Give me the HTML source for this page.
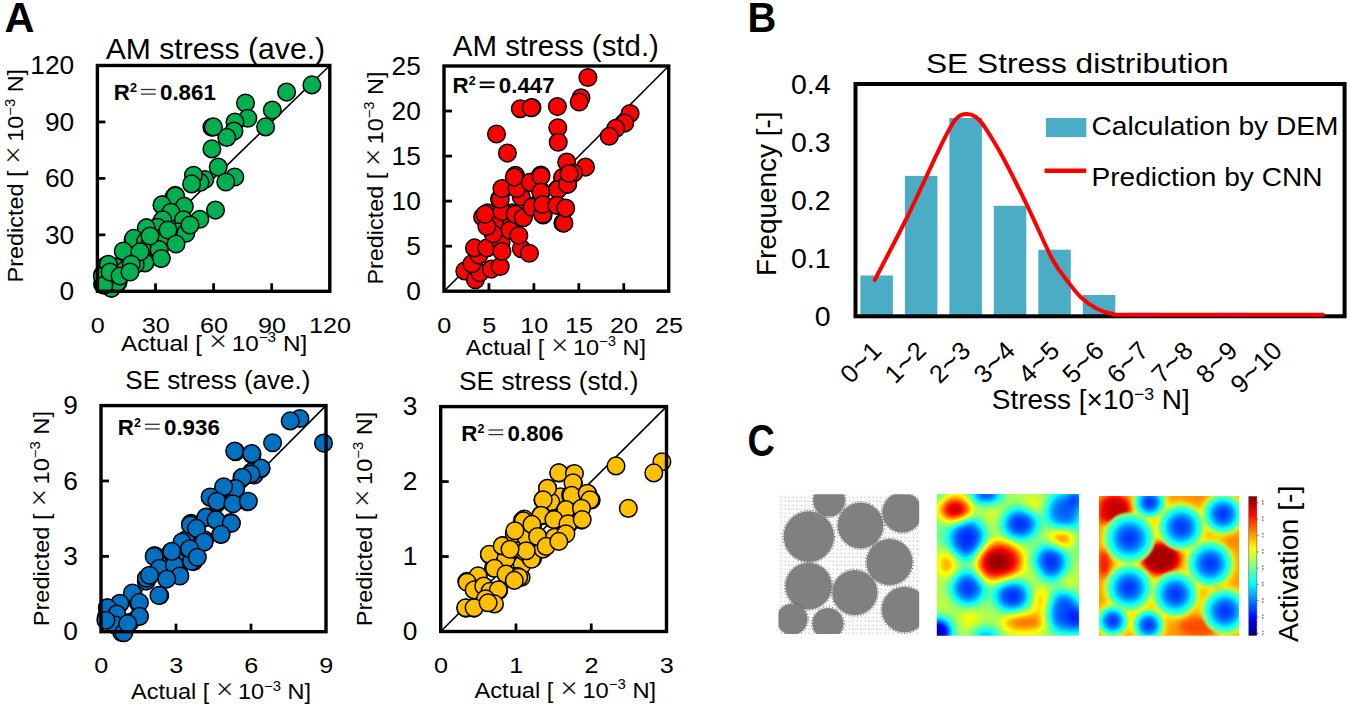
<!DOCTYPE html>
<html><head><meta charset="utf-8"><style>
html,body{margin:0;padding:0;background:#fff;overflow:hidden}
svg{display:block}
text{font-family:"Liberation Sans", sans-serif}
</style></head><body>
<svg width="1349" height="706" viewBox="0 0 1349 706" font-family='"Liberation Sans", sans-serif'>
<rect width="1349" height="706" fill="#fff"/>
<text transform="translate(4.6,32.3) scale(1.0,1.02)" font-size="41.5" font-weight="bold">A</text>
<text transform="translate(747.6,32.3) scale(0.96,1.02)" font-size="41.5" font-weight="bold">B</text>
<text transform="translate(747.5,455.5) scale(0.91,1.05)" font-size="41.5" font-weight="bold">C</text>
<line x1="97.4" y1="234.85000000000002" x2="105.4" y2="234.85000000000002" stroke="#000" stroke-width="2.8"/>
<line x1="155.5" y1="291.3" x2="155.5" y2="283.3" stroke="#000" stroke-width="2.8"/>
<line x1="97.4" y1="178.4" x2="105.4" y2="178.4" stroke="#000" stroke-width="2.8"/>
<line x1="213.60000000000002" y1="291.3" x2="213.60000000000002" y2="283.3" stroke="#000" stroke-width="2.8"/>
<line x1="97.4" y1="121.94999999999999" x2="105.4" y2="121.94999999999999" stroke="#000" stroke-width="2.8"/>
<line x1="271.70000000000005" y1="291.3" x2="271.70000000000005" y2="283.3" stroke="#000" stroke-width="2.8"/>
<line x1="97.4" y1="291.3" x2="329.8" y2="65.5" stroke="#000" stroke-width="1.6"/>
<circle cx="311.9" cy="84.9" r="8.8" fill="#00b050" stroke="#000" stroke-width="1.5"/>
<circle cx="286.6" cy="92.1" r="8.8" fill="#00b050" stroke="#000" stroke-width="1.5"/>
<circle cx="272.3" cy="110.1" r="8.8" fill="#00b050" stroke="#000" stroke-width="1.5"/>
<circle cx="265.6" cy="126.9" r="8.8" fill="#00b050" stroke="#000" stroke-width="1.5"/>
<circle cx="245.5" cy="103" r="8.8" fill="#00b050" stroke="#000" stroke-width="1.5"/>
<circle cx="247.8" cy="118.3" r="8.8" fill="#00b050" stroke="#000" stroke-width="1.5"/>
<circle cx="235" cy="122.1" r="8.8" fill="#00b050" stroke="#000" stroke-width="1.5"/>
<circle cx="234" cy="131.1" r="8.8" fill="#00b050" stroke="#000" stroke-width="1.5"/>
<circle cx="226.8" cy="137.4" r="8.8" fill="#00b050" stroke="#000" stroke-width="1.5"/>
<circle cx="211.9" cy="127.3" r="8.8" fill="#00b050" stroke="#000" stroke-width="1.5"/>
<circle cx="213.4" cy="126.9" r="8.8" fill="#00b050" stroke="#000" stroke-width="1.5"/>
<circle cx="211.9" cy="148.9" r="8.8" fill="#00b050" stroke="#000" stroke-width="1.5"/>
<circle cx="218.2" cy="167.1" r="8.8" fill="#00b050" stroke="#000" stroke-width="1.5"/>
<circle cx="234.8" cy="177" r="8.8" fill="#00b050" stroke="#000" stroke-width="1.5"/>
<circle cx="225.8" cy="182" r="8.8" fill="#00b050" stroke="#000" stroke-width="1.5"/>
<circle cx="204.8" cy="179.5" r="8.8" fill="#00b050" stroke="#000" stroke-width="1.5"/>
<circle cx="200" cy="182.4" r="8.8" fill="#00b050" stroke="#000" stroke-width="1.5"/>
<circle cx="193.5" cy="175.3" r="8.8" fill="#00b050" stroke="#000" stroke-width="1.5"/>
<circle cx="191.6" cy="183.9" r="8.8" fill="#00b050" stroke="#000" stroke-width="1.5"/>
<circle cx="215.5" cy="210.1" r="8.8" fill="#00b050" stroke="#000" stroke-width="1.5"/>
<circle cx="199.8" cy="219.3" r="8.8" fill="#00b050" stroke="#000" stroke-width="1.5"/>
<circle cx="175.3" cy="195.4" r="8.8" fill="#00b050" stroke="#000" stroke-width="1.5"/>
<circle cx="183" cy="205.9" r="8.8" fill="#00b050" stroke="#000" stroke-width="1.5"/>
<circle cx="162.3" cy="204.9" r="8.8" fill="#00b050" stroke="#000" stroke-width="1.5"/>
<circle cx="183" cy="219.7" r="8.8" fill="#00b050" stroke="#000" stroke-width="1.5"/>
<circle cx="184.9" cy="232.7" r="8.8" fill="#00b050" stroke="#000" stroke-width="1.5"/>
<circle cx="179.1" cy="235.5" r="8.8" fill="#00b050" stroke="#000" stroke-width="1.5"/>
<circle cx="172.4" cy="225" r="8.8" fill="#00b050" stroke="#000" stroke-width="1.5"/>
<circle cx="161.9" cy="221.2" r="8.8" fill="#00b050" stroke="#000" stroke-width="1.5"/>
<circle cx="156.2" cy="227.9" r="8.8" fill="#00b050" stroke="#000" stroke-width="1.5"/>
<circle cx="164.2" cy="235.5" r="8.8" fill="#00b050" stroke="#000" stroke-width="1.5"/>
<circle cx="146.6" cy="227.9" r="8.8" fill="#00b050" stroke="#000" stroke-width="1.5"/>
<circle cx="143.8" cy="241.3" r="8.8" fill="#00b050" stroke="#000" stroke-width="1.5"/>
<circle cx="151.4" cy="245.1" r="8.8" fill="#00b050" stroke="#000" stroke-width="1.5"/>
<circle cx="159.1" cy="249.9" r="8.8" fill="#00b050" stroke="#000" stroke-width="1.5"/>
<circle cx="161" cy="258.5" r="8.8" fill="#00b050" stroke="#000" stroke-width="1.5"/>
<circle cx="145.7" cy="261.3" r="8.8" fill="#00b050" stroke="#000" stroke-width="1.5"/>
<circle cx="135.2" cy="264.2" r="8.8" fill="#00b050" stroke="#000" stroke-width="1.5"/>
<circle cx="133.2" cy="240.3" r="8.8" fill="#00b050" stroke="#000" stroke-width="1.5"/>
<circle cx="123.7" cy="251.8" r="8.8" fill="#00b050" stroke="#000" stroke-width="1.5"/>
<circle cx="125.6" cy="269" r="8.8" fill="#00b050" stroke="#000" stroke-width="1.5"/>
<circle cx="115.1" cy="267.1" r="8.8" fill="#00b050" stroke="#000" stroke-width="1.5"/>
<circle cx="106.5" cy="265.2" r="8.8" fill="#00b050" stroke="#000" stroke-width="1.5"/>
<circle cx="102.6" cy="274.7" r="8.8" fill="#00b050" stroke="#000" stroke-width="1.5"/>
<circle cx="118" cy="282.4" r="8.8" fill="#00b050" stroke="#000" stroke-width="1.5"/>
<circle cx="111.3" cy="288.1" r="8.8" fill="#00b050" stroke="#000" stroke-width="1.5"/>
<circle cx="102.6" cy="284.3" r="8.8" fill="#00b050" stroke="#000" stroke-width="1.5"/>
<circle cx="173.9" cy="197.3" r="8.8" fill="#00b050" stroke="#000" stroke-width="1.5"/>
<circle cx="181.3" cy="208.4" r="8.8" fill="#00b050" stroke="#000" stroke-width="1.5"/>
<circle cx="175.4" cy="196" r="8.8" fill="#00b050" stroke="#000" stroke-width="1.5"/>
<circle cx="162" cy="204.9" r="8.8" fill="#00b050" stroke="#000" stroke-width="1.5"/>
<circle cx="184.3" cy="206.4" r="8.8" fill="#00b050" stroke="#000" stroke-width="1.5"/>
<circle cx="170.9" cy="212.3" r="8.8" fill="#00b050" stroke="#000" stroke-width="1.5"/>
<circle cx="183.5" cy="219.8" r="8.8" fill="#00b050" stroke="#000" stroke-width="1.5"/>
<circle cx="162.7" cy="219.8" r="8.8" fill="#00b050" stroke="#000" stroke-width="1.5"/>
<circle cx="157.5" cy="227.2" r="8.8" fill="#00b050" stroke="#000" stroke-width="1.5"/>
<circle cx="146.3" cy="227.9" r="8.8" fill="#00b050" stroke="#000" stroke-width="1.5"/>
<circle cx="178.3" cy="231.7" r="8.8" fill="#00b050" stroke="#000" stroke-width="1.5"/>
<circle cx="185.8" cy="233.2" r="8.8" fill="#00b050" stroke="#000" stroke-width="1.5"/>
<circle cx="164.2" cy="236.1" r="8.8" fill="#00b050" stroke="#000" stroke-width="1.5"/>
<circle cx="133.7" cy="238.4" r="8.8" fill="#00b050" stroke="#000" stroke-width="1.5"/>
<circle cx="145.6" cy="241.3" r="8.8" fill="#00b050" stroke="#000" stroke-width="1.5"/>
<circle cx="150.1" cy="242.8" r="8.8" fill="#00b050" stroke="#000" stroke-width="1.5"/>
<circle cx="159" cy="249.5" r="8.8" fill="#00b050" stroke="#000" stroke-width="1.5"/>
<circle cx="123.3" cy="251" r="8.8" fill="#00b050" stroke="#000" stroke-width="1.5"/>
<circle cx="161.2" cy="258.5" r="8.8" fill="#00b050" stroke="#000" stroke-width="1.5"/>
<circle cx="144.9" cy="262.9" r="8.8" fill="#00b050" stroke="#000" stroke-width="1.5"/>
<circle cx="135.2" cy="264.4" r="8.8" fill="#00b050" stroke="#000" stroke-width="1.5"/>
<circle cx="115.8" cy="267.4" r="8.8" fill="#00b050" stroke="#000" stroke-width="1.5"/>
<circle cx="124.8" cy="270.4" r="8.8" fill="#00b050" stroke="#000" stroke-width="1.5"/>
<circle cx="108.4" cy="264.4" r="8.8" fill="#00b050" stroke="#000" stroke-width="1.5"/>
<circle cx="102.4" cy="276.3" r="8.8" fill="#00b050" stroke="#000" stroke-width="1.5"/>
<circle cx="111.4" cy="288.2" r="8.8" fill="#00b050" stroke="#000" stroke-width="1.5"/>
<circle cx="117.3" cy="282.3" r="8.8" fill="#00b050" stroke="#000" stroke-width="1.5"/>
<circle cx="103.9" cy="285.2" r="8.8" fill="#00b050" stroke="#000" stroke-width="1.5"/>
<circle cx="110" cy="272" r="8.8" fill="#00b050" stroke="#000" stroke-width="1.5"/>
<circle cx="120" cy="276" r="8.8" fill="#00b050" stroke="#000" stroke-width="1.5"/>
<circle cx="140" cy="251.8" r="8.8" fill="#00b050" stroke="#000" stroke-width="1.5"/>
<circle cx="131.3" cy="264.2" r="8.8" fill="#00b050" stroke="#000" stroke-width="1.5"/>
<circle cx="130" cy="272" r="8.8" fill="#00b050" stroke="#000" stroke-width="1.5"/>
<circle cx="150" cy="236" r="8.8" fill="#00b050" stroke="#000" stroke-width="1.5"/>
<circle cx="168" cy="230" r="8.8" fill="#00b050" stroke="#000" stroke-width="1.5"/>
<circle cx="190" cy="225" r="8.8" fill="#00b050" stroke="#000" stroke-width="1.5"/>
<circle cx="176" cy="244" r="8.8" fill="#00b050" stroke="#000" stroke-width="1.5"/>
<rect x="97.4" y="65.5" width="232.4" height="225.8" fill="none" stroke="#000" stroke-width="3.4"/>
<text x="74.2" y="300.0" font-size="26.3" text-anchor="end" fill="#000">0</text>
<text x="74.2" y="243.6" font-size="26.3" text-anchor="end" fill="#000">30</text>
<text x="74.2" y="187.1" font-size="26.3" text-anchor="end" fill="#000">60</text>
<text x="74.2" y="130.6" font-size="26.3" text-anchor="end" fill="#000">90</text>
<text x="74.2" y="74.2" font-size="26.3" text-anchor="end" fill="#000">120</text>
<text transform="translate(97.7,332.6) scale(1.12,1)" font-size="22.5" text-anchor="middle">0</text>
<text transform="translate(155.8,332.6) scale(1.12,1)" font-size="22.5" text-anchor="middle">30</text>
<text transform="translate(213.9,332.6) scale(1.12,1)" font-size="22.5" text-anchor="middle">60</text>
<text transform="translate(272.0,332.6) scale(1.12,1)" font-size="22.5" text-anchor="middle">90</text>
<text transform="translate(330.1,332.6) scale(1.12,1)" font-size="22.5" text-anchor="middle">120</text>
<text x="121.0" y="350.9" font-size="22.2" textLength="186.2" lengthAdjust="spacingAndGlyphs">Actual [ <tspan font-size="29" stroke="#fff" stroke-width="0.6">×</tspan><tspan dx="4">10</tspan><tspan font-size="14" dy="-8.5">−3</tspan><tspan dy="8.5"> N]</tspan></text>
<text transform="translate(23.2,282.5) rotate(-90)" font-size="22.2" textLength="213.6" lengthAdjust="spacingAndGlyphs">Predicted [ <tspan font-size="29" stroke="#fff" stroke-width="0.6">×</tspan><tspan dx="4">10</tspan><tspan font-size="14" dy="-8.5">−3</tspan><tspan dy="8.5"> N]</tspan></text>
<text x="105.7" y="58.6" font-size="29" textLength="219.4" lengthAdjust="spacingAndGlyphs" fill="#000">AM stress (ave.)</text>
<text x="113.7" y="100.3" font-size="22.3" font-weight="bold" fill="#000">R</text>
<text x="129.9" y="92.3" font-size="12.5" font-weight="bold" fill="#000">2</text>
<line x1="140.9" y1="89.5" x2="155.7" y2="89.5" stroke="#333" stroke-width="1.3"/>
<line x1="140.9" y1="94.1" x2="155.7" y2="94.1" stroke="#333" stroke-width="1.3"/>
<text x="160.0" y="100.3" font-size="22.3" font-weight="bold" fill="#000">0.861</text>
<line x1="444" y1="246.16" x2="452" y2="246.16" stroke="#000" stroke-width="2.8"/>
<line x1="488.94" y1="291.2" x2="488.94" y2="283.2" stroke="#000" stroke-width="2.8"/>
<line x1="444" y1="201.12" x2="452" y2="201.12" stroke="#000" stroke-width="2.8"/>
<line x1="533.88" y1="291.2" x2="533.88" y2="283.2" stroke="#000" stroke-width="2.8"/>
<line x1="444" y1="156.08" x2="452" y2="156.08" stroke="#000" stroke-width="2.8"/>
<line x1="578.82" y1="291.2" x2="578.82" y2="283.2" stroke="#000" stroke-width="2.8"/>
<line x1="444" y1="111.03999999999999" x2="452" y2="111.03999999999999" stroke="#000" stroke-width="2.8"/>
<line x1="623.76" y1="291.2" x2="623.76" y2="283.2" stroke="#000" stroke-width="2.8"/>
<line x1="444" y1="291.2" x2="668.7" y2="66" stroke="#000" stroke-width="1.6"/>
<circle cx="587.9" cy="77.5" r="8.8" fill="#ff0000" stroke="#000" stroke-width="1.5"/>
<circle cx="581" cy="97.7" r="8.8" fill="#ff0000" stroke="#000" stroke-width="1.5"/>
<circle cx="579.2" cy="102" r="8.8" fill="#ff0000" stroke="#000" stroke-width="1.5"/>
<circle cx="557.4" cy="106.6" r="8.8" fill="#ff0000" stroke="#000" stroke-width="1.5"/>
<circle cx="532" cy="107.6" r="8.8" fill="#ff0000" stroke="#000" stroke-width="1.5"/>
<circle cx="557.8" cy="127.8" r="8.8" fill="#ff0000" stroke="#000" stroke-width="1.5"/>
<circle cx="558.2" cy="142.3" r="8.8" fill="#ff0000" stroke="#000" stroke-width="1.5"/>
<circle cx="630.1" cy="113.5" r="8.8" fill="#ff0000" stroke="#000" stroke-width="1.5"/>
<circle cx="624.8" cy="123.1" r="8.8" fill="#ff0000" stroke="#000" stroke-width="1.5"/>
<circle cx="615.7" cy="128.4" r="8.8" fill="#ff0000" stroke="#000" stroke-width="1.5"/>
<circle cx="609.3" cy="136.3" r="8.8" fill="#ff0000" stroke="#000" stroke-width="1.5"/>
<circle cx="566.7" cy="162.1" r="8.8" fill="#ff0000" stroke="#000" stroke-width="1.5"/>
<circle cx="585.5" cy="167.1" r="8.8" fill="#ff0000" stroke="#000" stroke-width="1.5"/>
<circle cx="573.6" cy="173" r="8.8" fill="#ff0000" stroke="#000" stroke-width="1.5"/>
<circle cx="567.7" cy="183.9" r="8.8" fill="#ff0000" stroke="#000" stroke-width="1.5"/>
<circle cx="557.8" cy="188.9" r="8.8" fill="#ff0000" stroke="#000" stroke-width="1.5"/>
<circle cx="562.7" cy="178" r="8.8" fill="#ff0000" stroke="#000" stroke-width="1.5"/>
<circle cx="540.9" cy="175" r="8.8" fill="#ff0000" stroke="#000" stroke-width="1.5"/>
<circle cx="533" cy="182" r="8.8" fill="#ff0000" stroke="#000" stroke-width="1.5"/>
<circle cx="540.9" cy="190.9" r="8.8" fill="#ff0000" stroke="#000" stroke-width="1.5"/>
<circle cx="520.3" cy="108.8" r="8.8" fill="#ff0000" stroke="#000" stroke-width="1.5"/>
<circle cx="531.2" cy="107.8" r="8.8" fill="#ff0000" stroke="#000" stroke-width="1.5"/>
<circle cx="496.5" cy="134" r="8.8" fill="#ff0000" stroke="#000" stroke-width="1.5"/>
<circle cx="507.4" cy="153.1" r="8.8" fill="#ff0000" stroke="#000" stroke-width="1.5"/>
<circle cx="515.4" cy="175.3" r="8.8" fill="#ff0000" stroke="#000" stroke-width="1.5"/>
<circle cx="540.1" cy="176.3" r="8.8" fill="#ff0000" stroke="#000" stroke-width="1.5"/>
<circle cx="530.2" cy="182.2" r="8.8" fill="#ff0000" stroke="#000" stroke-width="1.5"/>
<circle cx="518.3" cy="188.2" r="8.8" fill="#ff0000" stroke="#000" stroke-width="1.5"/>
<circle cx="503.5" cy="189.1" r="8.8" fill="#ff0000" stroke="#000" stroke-width="1.5"/>
<circle cx="541.1" cy="192.1" r="8.8" fill="#ff0000" stroke="#000" stroke-width="1.5"/>
<circle cx="558" cy="189.1" r="8.8" fill="#ff0000" stroke="#000" stroke-width="1.5"/>
<circle cx="566.9" cy="184.2" r="8.8" fill="#ff0000" stroke="#000" stroke-width="1.5"/>
<circle cx="562.9" cy="177.2" r="8.8" fill="#ff0000" stroke="#000" stroke-width="1.5"/>
<circle cx="499.5" cy="199.1" r="8.8" fill="#ff0000" stroke="#000" stroke-width="1.5"/>
<circle cx="521.3" cy="197.1" r="8.8" fill="#ff0000" stroke="#000" stroke-width="1.5"/>
<circle cx="533.2" cy="206" r="8.8" fill="#ff0000" stroke="#000" stroke-width="1.5"/>
<circle cx="542.1" cy="204" r="8.8" fill="#ff0000" stroke="#000" stroke-width="1.5"/>
<circle cx="557" cy="205" r="8.8" fill="#ff0000" stroke="#000" stroke-width="1.5"/>
<circle cx="564.9" cy="209" r="8.8" fill="#ff0000" stroke="#000" stroke-width="1.5"/>
<circle cx="543.1" cy="214.9" r="8.8" fill="#ff0000" stroke="#000" stroke-width="1.5"/>
<circle cx="562.9" cy="222.9" r="8.8" fill="#ff0000" stroke="#000" stroke-width="1.5"/>
<circle cx="523.3" cy="216.9" r="8.8" fill="#ff0000" stroke="#000" stroke-width="1.5"/>
<circle cx="512.4" cy="212.9" r="8.8" fill="#ff0000" stroke="#000" stroke-width="1.5"/>
<circle cx="502.5" cy="211" r="8.8" fill="#ff0000" stroke="#000" stroke-width="1.5"/>
<circle cx="487.6" cy="212.9" r="8.8" fill="#ff0000" stroke="#000" stroke-width="1.5"/>
<circle cx="482.6" cy="216.9" r="8.8" fill="#ff0000" stroke="#000" stroke-width="1.5"/>
<circle cx="509.4" cy="226.8" r="8.8" fill="#ff0000" stroke="#000" stroke-width="1.5"/>
<circle cx="494.5" cy="224.8" r="8.8" fill="#ff0000" stroke="#000" stroke-width="1.5"/>
<circle cx="464.8" cy="270.9" r="8.8" fill="#ff0000" stroke="#000" stroke-width="1.5"/>
<circle cx="475.4" cy="279.7" r="8.8" fill="#ff0000" stroke="#000" stroke-width="1.5"/>
<circle cx="479.8" cy="272.7" r="8.8" fill="#ff0000" stroke="#000" stroke-width="1.5"/>
<circle cx="471.9" cy="263.8" r="8.8" fill="#ff0000" stroke="#000" stroke-width="1.5"/>
<circle cx="478.9" cy="255" r="8.8" fill="#ff0000" stroke="#000" stroke-width="1.5"/>
<circle cx="474.5" cy="247.9" r="8.8" fill="#ff0000" stroke="#000" stroke-width="1.5"/>
<circle cx="486.9" cy="247.9" r="8.8" fill="#ff0000" stroke="#000" stroke-width="1.5"/>
<circle cx="491.3" cy="269.1" r="8.8" fill="#ff0000" stroke="#000" stroke-width="1.5"/>
<circle cx="500.2" cy="266.5" r="8.8" fill="#ff0000" stroke="#000" stroke-width="1.5"/>
<circle cx="501.1" cy="242.6" r="8.8" fill="#ff0000" stroke="#000" stroke-width="1.5"/>
<circle cx="501.9" cy="251.4" r="8.8" fill="#ff0000" stroke="#000" stroke-width="1.5"/>
<circle cx="521.4" cy="248.8" r="8.8" fill="#ff0000" stroke="#000" stroke-width="1.5"/>
<circle cx="529.4" cy="253.2" r="8.8" fill="#ff0000" stroke="#000" stroke-width="1.5"/>
<circle cx="509.9" cy="230.2" r="8.8" fill="#ff0000" stroke="#000" stroke-width="1.5"/>
<circle cx="518.8" cy="235.5" r="8.8" fill="#ff0000" stroke="#000" stroke-width="1.5"/>
<circle cx="493.1" cy="233.7" r="8.8" fill="#ff0000" stroke="#000" stroke-width="1.5"/>
<circle cx="486.9" cy="226.6" r="8.8" fill="#ff0000" stroke="#000" stroke-width="1.5"/>
<circle cx="485.1" cy="214.2" r="8.8" fill="#ff0000" stroke="#000" stroke-width="1.5"/>
<circle cx="501.9" cy="211.6" r="8.8" fill="#ff0000" stroke="#000" stroke-width="1.5"/>
<circle cx="515.2" cy="214.2" r="8.8" fill="#ff0000" stroke="#000" stroke-width="1.5"/>
<circle cx="523.2" cy="217.8" r="8.8" fill="#ff0000" stroke="#000" stroke-width="1.5"/>
<circle cx="500.2" cy="199.2" r="8.8" fill="#ff0000" stroke="#000" stroke-width="1.5"/>
<circle cx="501.9" cy="188.6" r="8.8" fill="#ff0000" stroke="#000" stroke-width="1.5"/>
<circle cx="517" cy="188.6" r="8.8" fill="#ff0000" stroke="#000" stroke-width="1.5"/>
<circle cx="514.3" cy="177.1" r="8.8" fill="#ff0000" stroke="#000" stroke-width="1.5"/>
<circle cx="530.3" cy="182.4" r="8.8" fill="#ff0000" stroke="#000" stroke-width="1.5"/>
<circle cx="540.9" cy="176.2" r="8.8" fill="#ff0000" stroke="#000" stroke-width="1.5"/>
<circle cx="540.9" cy="192.1" r="8.8" fill="#ff0000" stroke="#000" stroke-width="1.5"/>
<circle cx="532" cy="207.2" r="8.8" fill="#ff0000" stroke="#000" stroke-width="1.5"/>
<circle cx="542.7" cy="214.2" r="8.8" fill="#ff0000" stroke="#000" stroke-width="1.5"/>
<circle cx="542.7" cy="204.5" r="8.8" fill="#ff0000" stroke="#000" stroke-width="1.5"/>
<circle cx="557.7" cy="189.5" r="8.8" fill="#ff0000" stroke="#000" stroke-width="1.5"/>
<circle cx="567.4" cy="184.2" r="8.8" fill="#ff0000" stroke="#000" stroke-width="1.5"/>
<circle cx="556.8" cy="205.4" r="8.8" fill="#ff0000" stroke="#000" stroke-width="1.5"/>
<circle cx="563.9" cy="223.1" r="8.8" fill="#ff0000" stroke="#000" stroke-width="1.5"/>
<circle cx="565.7" cy="208.1" r="8.8" fill="#ff0000" stroke="#000" stroke-width="1.5"/>
<circle cx="569.2" cy="173.5" r="8.8" fill="#ff0000" stroke="#000" stroke-width="1.5"/>
<rect x="444" y="66" width="224.70000000000005" height="225.2" fill="none" stroke="#000" stroke-width="3.4"/>
<text x="420.8" y="299.9" font-size="26.3" text-anchor="end" fill="#000">0</text>
<text x="420.8" y="254.9" font-size="26.3" text-anchor="end" fill="#000">5</text>
<text x="420.8" y="209.8" font-size="26.3" text-anchor="end" fill="#000">10</text>
<text x="420.8" y="164.8" font-size="26.3" text-anchor="end" fill="#000">15</text>
<text x="420.8" y="119.7" font-size="26.3" text-anchor="end" fill="#000">20</text>
<text x="420.8" y="74.7" font-size="26.3" text-anchor="end" fill="#000">25</text>
<text transform="translate(444.3,332.6) scale(1.12,1)" font-size="22.5" text-anchor="middle">0</text>
<text transform="translate(489.2,332.6) scale(1.12,1)" font-size="22.5" text-anchor="middle">5</text>
<text transform="translate(534.2,332.6) scale(1.12,1)" font-size="22.5" text-anchor="middle">10</text>
<text transform="translate(579.1,332.6) scale(1.12,1)" font-size="22.5" text-anchor="middle">15</text>
<text transform="translate(624.1,332.6) scale(1.12,1)" font-size="22.5" text-anchor="middle">20</text>
<text transform="translate(669.0,332.6) scale(1.12,1)" font-size="22.5" text-anchor="middle">25</text>
<text x="465.8" y="354.8" font-size="22.2" textLength="180.2" lengthAdjust="spacingAndGlyphs">Actual [ <tspan font-size="29" stroke="#fff" stroke-width="0.6">×</tspan><tspan dx="4">10</tspan><tspan font-size="14" dy="-8.5">−3</tspan><tspan dy="8.5"> N]</tspan></text>
<text transform="translate(382.8,284.5) rotate(-90)" font-size="22.2" textLength="212.9" lengthAdjust="spacingAndGlyphs">Predicted [ <tspan font-size="29" stroke="#fff" stroke-width="0.6">×</tspan><tspan dx="4">10</tspan><tspan font-size="14" dy="-8.5">−3</tspan><tspan dy="8.5"> N]</tspan></text>
<text x="452.8" y="56" font-size="29" textLength="206.1" lengthAdjust="spacingAndGlyphs" fill="#000">AM stress (std.)</text>
<text x="452.5" y="93.3" font-size="22.3" font-weight="bold" fill="#000">R</text>
<text x="468.7" y="85.3" font-size="12.5" font-weight="bold" fill="#000">2</text>
<line x1="479.7" y1="82.5" x2="494.5" y2="82.5" stroke="#000" stroke-width="2"/>
<line x1="479.7" y1="87.1" x2="494.5" y2="87.1" stroke="#000" stroke-width="2"/>
<text x="498.8" y="93.3" font-size="22.3" font-weight="bold" fill="#000">0.447</text>
<line x1="101" y1="556.3333333333334" x2="109" y2="556.3333333333334" stroke="#000" stroke-width="2.8"/>
<line x1="176.0" y1="631.7" x2="176.0" y2="623.7" stroke="#000" stroke-width="2.8"/>
<line x1="101" y1="480.9666666666667" x2="109" y2="480.9666666666667" stroke="#000" stroke-width="2.8"/>
<line x1="251.0" y1="631.7" x2="251.0" y2="623.7" stroke="#000" stroke-width="2.8"/>
<line x1="101" y1="631.7" x2="326" y2="405.6" stroke="#000" stroke-width="1.6"/>
<circle cx="299.9" cy="418.5" r="8.8" fill="#0070c0" stroke="#000" stroke-width="1.5"/>
<circle cx="290.2" cy="420.9" r="8.8" fill="#0070c0" stroke="#000" stroke-width="1.5"/>
<circle cx="323.5" cy="443.1" r="8.8" fill="#0070c0" stroke="#000" stroke-width="1.5"/>
<circle cx="272.6" cy="442.7" r="8.8" fill="#0070c0" stroke="#000" stroke-width="1.5"/>
<circle cx="235.6" cy="451.8" r="8.8" fill="#0070c0" stroke="#000" stroke-width="1.5"/>
<circle cx="252" cy="454.4" r="8.8" fill="#0070c0" stroke="#000" stroke-width="1.5"/>
<circle cx="254.1" cy="475" r="8.8" fill="#0070c0" stroke="#000" stroke-width="1.5"/>
<circle cx="251.6" cy="471.9" r="8.8" fill="#0070c0" stroke="#000" stroke-width="1.5"/>
<circle cx="260.9" cy="468.8" r="8.8" fill="#0070c0" stroke="#000" stroke-width="1.5"/>
<circle cx="242" cy="477.6" r="8.8" fill="#0070c0" stroke="#000" stroke-width="1.5"/>
<circle cx="235.6" cy="488.3" r="8.8" fill="#0070c0" stroke="#000" stroke-width="1.5"/>
<circle cx="223.9" cy="488.3" r="8.8" fill="#0070c0" stroke="#000" stroke-width="1.5"/>
<circle cx="210.5" cy="497.6" r="8.8" fill="#0070c0" stroke="#000" stroke-width="1.5"/>
<circle cx="247.5" cy="501.7" r="8.8" fill="#0070c0" stroke="#000" stroke-width="1.5"/>
<circle cx="232.1" cy="502.7" r="8.8" fill="#0070c0" stroke="#000" stroke-width="1.5"/>
<circle cx="216.7" cy="501.7" r="8.8" fill="#0070c0" stroke="#000" stroke-width="1.5"/>
<circle cx="206.4" cy="517.1" r="8.8" fill="#0070c0" stroke="#000" stroke-width="1.5"/>
<circle cx="215.7" cy="520.1" r="8.8" fill="#0070c0" stroke="#000" stroke-width="1.5"/>
<circle cx="231.1" cy="523.2" r="8.8" fill="#0070c0" stroke="#000" stroke-width="1.5"/>
<circle cx="220.8" cy="534.5" r="8.8" fill="#0070c0" stroke="#000" stroke-width="1.5"/>
<circle cx="196.2" cy="528.4" r="8.8" fill="#0070c0" stroke="#000" stroke-width="1.5"/>
<circle cx="204.4" cy="539.7" r="8.8" fill="#0070c0" stroke="#000" stroke-width="1.5"/>
<circle cx="191" cy="523.2" r="8.8" fill="#0070c0" stroke="#000" stroke-width="1.5"/>
<circle cx="230.6" cy="522.6" r="8.8" fill="#0070c0" stroke="#000" stroke-width="1.5"/>
<circle cx="190.5" cy="524.6" r="8.8" fill="#0070c0" stroke="#000" stroke-width="1.5"/>
<circle cx="195.6" cy="529.8" r="8.8" fill="#0070c0" stroke="#000" stroke-width="1.5"/>
<circle cx="203.9" cy="542.1" r="8.8" fill="#0070c0" stroke="#000" stroke-width="1.5"/>
<circle cx="185.4" cy="540" r="8.8" fill="#0070c0" stroke="#000" stroke-width="1.5"/>
<circle cx="189.5" cy="549.3" r="8.8" fill="#0070c0" stroke="#000" stroke-width="1.5"/>
<circle cx="193.6" cy="561.6" r="8.8" fill="#0070c0" stroke="#000" stroke-width="1.5"/>
<circle cx="179.2" cy="573.9" r="8.8" fill="#0070c0" stroke="#000" stroke-width="1.5"/>
<circle cx="177.2" cy="559.6" r="8.8" fill="#0070c0" stroke="#000" stroke-width="1.5"/>
<circle cx="171" cy="552.4" r="8.8" fill="#0070c0" stroke="#000" stroke-width="1.5"/>
<circle cx="166.9" cy="576" r="8.8" fill="#0070c0" stroke="#000" stroke-width="1.5"/>
<circle cx="154.6" cy="555.5" r="8.8" fill="#0070c0" stroke="#000" stroke-width="1.5"/>
<circle cx="159.7" cy="567.8" r="8.8" fill="#0070c0" stroke="#000" stroke-width="1.5"/>
<circle cx="146.3" cy="581.1" r="8.8" fill="#0070c0" stroke="#000" stroke-width="1.5"/>
<circle cx="149.4" cy="576" r="8.8" fill="#0070c0" stroke="#000" stroke-width="1.5"/>
<circle cx="159.7" cy="595.5" r="8.8" fill="#0070c0" stroke="#000" stroke-width="1.5"/>
<circle cx="133" cy="594.5" r="8.8" fill="#0070c0" stroke="#000" stroke-width="1.5"/>
<circle cx="138.1" cy="602.7" r="8.8" fill="#0070c0" stroke="#000" stroke-width="1.5"/>
<circle cx="139.2" cy="616" r="8.8" fill="#0070c0" stroke="#000" stroke-width="1.5"/>
<circle cx="119.6" cy="603.7" r="8.8" fill="#0070c0" stroke="#000" stroke-width="1.5"/>
<circle cx="107.3" cy="607.8" r="8.8" fill="#0070c0" stroke="#000" stroke-width="1.5"/>
<circle cx="106.3" cy="617.1" r="8.8" fill="#0070c0" stroke="#000" stroke-width="1.5"/>
<circle cx="115.5" cy="624.3" r="8.8" fill="#0070c0" stroke="#000" stroke-width="1.5"/>
<circle cx="121.7" cy="632.5" r="8.8" fill="#0070c0" stroke="#000" stroke-width="1.5"/>
<circle cx="125.8" cy="623.2" r="8.8" fill="#0070c0" stroke="#000" stroke-width="1.5"/>
<circle cx="129.9" cy="622.2" r="8.8" fill="#0070c0" stroke="#000" stroke-width="1.5"/>
<circle cx="154.2" cy="556.5" r="8.8" fill="#0070c0" stroke="#000" stroke-width="1.5"/>
<circle cx="171.3" cy="551.8" r="8.8" fill="#0070c0" stroke="#000" stroke-width="1.5"/>
<circle cx="188.5" cy="548.7" r="8.8" fill="#0070c0" stroke="#000" stroke-width="1.5"/>
<circle cx="159.6" cy="568.2" r="8.8" fill="#0070c0" stroke="#000" stroke-width="1.5"/>
<circle cx="174.4" cy="565" r="8.8" fill="#0070c0" stroke="#000" stroke-width="1.5"/>
<circle cx="179.9" cy="576" r="8.8" fill="#0070c0" stroke="#000" stroke-width="1.5"/>
<circle cx="166.7" cy="579.1" r="8.8" fill="#0070c0" stroke="#000" stroke-width="1.5"/>
<circle cx="146.4" cy="578.3" r="8.8" fill="#0070c0" stroke="#000" stroke-width="1.5"/>
<circle cx="149.5" cy="575.2" r="8.8" fill="#0070c0" stroke="#000" stroke-width="1.5"/>
<circle cx="158.9" cy="595.4" r="8.8" fill="#0070c0" stroke="#000" stroke-width="1.5"/>
<circle cx="132.4" cy="593.1" r="8.8" fill="#0070c0" stroke="#000" stroke-width="1.5"/>
<circle cx="139.4" cy="602.4" r="8.8" fill="#0070c0" stroke="#000" stroke-width="1.5"/>
<circle cx="139.4" cy="616.4" r="8.8" fill="#0070c0" stroke="#000" stroke-width="1.5"/>
<circle cx="119.9" cy="603.2" r="8.8" fill="#0070c0" stroke="#000" stroke-width="1.5"/>
<circle cx="107.5" cy="607.9" r="8.8" fill="#0070c0" stroke="#000" stroke-width="1.5"/>
<circle cx="116.8" cy="614.1" r="8.8" fill="#0070c0" stroke="#000" stroke-width="1.5"/>
<circle cx="115.2" cy="625" r="8.8" fill="#0070c0" stroke="#000" stroke-width="1.5"/>
<circle cx="123.8" cy="632.8" r="8.8" fill="#0070c0" stroke="#000" stroke-width="1.5"/>
<circle cx="127.7" cy="623.5" r="8.8" fill="#0070c0" stroke="#000" stroke-width="1.5"/>
<circle cx="105.9" cy="620.3" r="8.8" fill="#0070c0" stroke="#000" stroke-width="1.5"/>
<circle cx="191.6" cy="561.2" r="8.8" fill="#0070c0" stroke="#000" stroke-width="1.5"/>
<circle cx="234.7" cy="451.1" r="8.8" fill="#0070c0" stroke="#000" stroke-width="1.5"/>
<circle cx="251.7" cy="453.6" r="8.8" fill="#0070c0" stroke="#000" stroke-width="1.5"/>
<circle cx="261.1" cy="468.1" r="8.8" fill="#0070c0" stroke="#000" stroke-width="1.5"/>
<circle cx="250.9" cy="474" r="8.8" fill="#0070c0" stroke="#000" stroke-width="1.5"/>
<circle cx="242.4" cy="477.4" r="8.8" fill="#0070c0" stroke="#000" stroke-width="1.5"/>
<circle cx="235.6" cy="488.5" r="8.8" fill="#0070c0" stroke="#000" stroke-width="1.5"/>
<circle cx="223.7" cy="486.8" r="8.8" fill="#0070c0" stroke="#000" stroke-width="1.5"/>
<circle cx="210.1" cy="497" r="8.8" fill="#0070c0" stroke="#000" stroke-width="1.5"/>
<circle cx="216.9" cy="501.2" r="8.8" fill="#0070c0" stroke="#000" stroke-width="1.5"/>
<circle cx="233" cy="503.8" r="8.8" fill="#0070c0" stroke="#000" stroke-width="1.5"/>
<circle cx="248.3" cy="501.2" r="8.8" fill="#0070c0" stroke="#000" stroke-width="1.5"/>
<circle cx="205.8" cy="517.4" r="8.8" fill="#0070c0" stroke="#000" stroke-width="1.5"/>
<circle cx="216" cy="519.9" r="8.8" fill="#0070c0" stroke="#000" stroke-width="1.5"/>
<circle cx="231.3" cy="523.3" r="8.8" fill="#0070c0" stroke="#000" stroke-width="1.5"/>
<circle cx="190.5" cy="525" r="8.8" fill="#0070c0" stroke="#000" stroke-width="1.5"/>
<circle cx="196.5" cy="528.4" r="8.8" fill="#0070c0" stroke="#000" stroke-width="1.5"/>
<circle cx="221.1" cy="534.4" r="8.8" fill="#0070c0" stroke="#000" stroke-width="1.5"/>
<circle cx="204.1" cy="542" r="8.8" fill="#0070c0" stroke="#000" stroke-width="1.5"/>
<circle cx="182" cy="542" r="8.8" fill="#0070c0" stroke="#000" stroke-width="1.5"/>
<circle cx="189.7" cy="548.8" r="8.8" fill="#0070c0" stroke="#000" stroke-width="1.5"/>
<circle cx="171.8" cy="551.4" r="8.8" fill="#0070c0" stroke="#000" stroke-width="1.5"/>
<circle cx="197.3" cy="557.3" r="8.8" fill="#0070c0" stroke="#000" stroke-width="1.5"/>
<rect x="101" y="405.6" width="225" height="226.10000000000002" fill="none" stroke="#000" stroke-width="3.4"/>
<text x="77.8" y="640.4" font-size="26.3" text-anchor="end" fill="#000">0</text>
<text x="77.8" y="565.0" font-size="26.3" text-anchor="end" fill="#000">3</text>
<text x="77.8" y="489.7" font-size="26.3" text-anchor="end" fill="#000">6</text>
<text x="77.8" y="414.3" font-size="26.3" text-anchor="end" fill="#000">9</text>
<text transform="translate(101.3,673.2) scale(1.12,1)" font-size="22.5" text-anchor="middle">0</text>
<text transform="translate(176.3,673.2) scale(1.12,1)" font-size="22.5" text-anchor="middle">3</text>
<text transform="translate(251.3,673.2) scale(1.12,1)" font-size="22.5" text-anchor="middle">6</text>
<text transform="translate(326.3,673.2) scale(1.12,1)" font-size="22.5" text-anchor="middle">9</text>
<text x="131.1" y="699" font-size="22.2" textLength="179.9" lengthAdjust="spacingAndGlyphs">Actual [ <tspan font-size="29" stroke="#fff" stroke-width="0.6">×</tspan><tspan dx="4">10</tspan><tspan font-size="14" dy="-8.5">−3</tspan><tspan dy="8.5"> N]</tspan></text>
<text transform="translate(48.8,626.3) rotate(-90)" font-size="22.2" textLength="215.3" lengthAdjust="spacingAndGlyphs">Predicted [ <tspan font-size="29" stroke="#fff" stroke-width="0.6">×</tspan><tspan dx="4">10</tspan><tspan font-size="14" dy="-8.5">−3</tspan><tspan dy="8.5"> N]</tspan></text>
<text x="125.3" y="388.5" font-size="26" textLength="185.2" lengthAdjust="spacingAndGlyphs" fill="#000">SE stress (ave.)</text>
<text x="117.7" y="435.1" font-size="22.3" font-weight="bold" fill="#000">R</text>
<text x="133.9" y="427.1" font-size="12.5" font-weight="bold" fill="#000">2</text>
<line x1="144.9" y1="424.3" x2="159.7" y2="424.3" stroke="#333" stroke-width="1.3"/>
<line x1="144.9" y1="428.90000000000003" x2="159.7" y2="428.90000000000003" stroke="#333" stroke-width="1.3"/>
<text x="164.0" y="435.1" font-size="22.3" font-weight="bold" fill="#000">0.936</text>
<line x1="440.7" y1="556.5333333333333" x2="448.7" y2="556.5333333333333" stroke="#000" stroke-width="2.8"/>
<line x1="515.9666666666667" y1="631.5" x2="515.9666666666667" y2="623.5" stroke="#000" stroke-width="2.8"/>
<line x1="440.7" y1="481.5666666666667" x2="448.7" y2="481.5666666666667" stroke="#000" stroke-width="2.8"/>
<line x1="591.2333333333333" y1="631.5" x2="591.2333333333333" y2="623.5" stroke="#000" stroke-width="2.8"/>
<line x1="440.7" y1="631.5" x2="666.5" y2="406.6" stroke="#000" stroke-width="1.6"/>
<circle cx="661.9" cy="461.7" r="8.8" fill="#ffc000" stroke="#000" stroke-width="1.5"/>
<circle cx="653.8" cy="472.9" r="8.8" fill="#ffc000" stroke="#000" stroke-width="1.5"/>
<circle cx="616" cy="465.9" r="8.8" fill="#ffc000" stroke="#000" stroke-width="1.5"/>
<circle cx="628.3" cy="508.4" r="8.8" fill="#ffc000" stroke="#000" stroke-width="1.5"/>
<circle cx="558.9" cy="472.9" r="8.8" fill="#ffc000" stroke="#000" stroke-width="1.5"/>
<circle cx="572.7" cy="474.4" r="8.8" fill="#ffc000" stroke="#000" stroke-width="1.5"/>
<circle cx="573.5" cy="482.9" r="8.8" fill="#ffc000" stroke="#000" stroke-width="1.5"/>
<circle cx="547.6" cy="488.2" r="8.8" fill="#ffc000" stroke="#000" stroke-width="1.5"/>
<circle cx="560.4" cy="496.7" r="8.8" fill="#ffc000" stroke="#000" stroke-width="1.5"/>
<circle cx="571" cy="494.6" r="8.8" fill="#ffc000" stroke="#000" stroke-width="1.5"/>
<circle cx="587.6" cy="493.6" r="8.8" fill="#ffc000" stroke="#000" stroke-width="1.5"/>
<circle cx="591.2" cy="499.9" r="8.8" fill="#ffc000" stroke="#000" stroke-width="1.5"/>
<circle cx="542.9" cy="499.9" r="8.8" fill="#ffc000" stroke="#000" stroke-width="1.5"/>
<circle cx="550.8" cy="502" r="8.8" fill="#ffc000" stroke="#000" stroke-width="1.5"/>
<circle cx="565.7" cy="509.5" r="8.8" fill="#ffc000" stroke="#000" stroke-width="1.5"/>
<circle cx="581.6" cy="520.1" r="8.8" fill="#ffc000" stroke="#000" stroke-width="1.5"/>
<circle cx="568.4" cy="524.4" r="8.8" fill="#ffc000" stroke="#000" stroke-width="1.5"/>
<circle cx="552.9" cy="519" r="8.8" fill="#ffc000" stroke="#000" stroke-width="1.5"/>
<circle cx="541.2" cy="514.8" r="8.8" fill="#ffc000" stroke="#000" stroke-width="1.5"/>
<circle cx="532.7" cy="524.4" r="8.8" fill="#ffc000" stroke="#000" stroke-width="1.5"/>
<circle cx="524.2" cy="519" r="8.8" fill="#ffc000" stroke="#000" stroke-width="1.5"/>
<circle cx="538.1" cy="537.1" r="8.8" fill="#ffc000" stroke="#000" stroke-width="1.5"/>
<circle cx="556.1" cy="537.1" r="8.8" fill="#ffc000" stroke="#000" stroke-width="1.5"/>
<circle cx="564.6" cy="533.9" r="8.8" fill="#ffc000" stroke="#000" stroke-width="1.5"/>
<circle cx="543.4" cy="547.7" r="8.8" fill="#ffc000" stroke="#000" stroke-width="1.5"/>
<circle cx="526.4" cy="552" r="8.8" fill="#ffc000" stroke="#000" stroke-width="1.5"/>
<circle cx="532.7" cy="558.3" r="8.8" fill="#ffc000" stroke="#000" stroke-width="1.5"/>
<circle cx="521.1" cy="577.5" r="8.8" fill="#ffc000" stroke="#000" stroke-width="1.5"/>
<circle cx="522.1" cy="564.7" r="8.8" fill="#ffc000" stroke="#000" stroke-width="1.5"/>
<circle cx="570.6" cy="495.1" r="8.8" fill="#ffc000" stroke="#000" stroke-width="1.5"/>
<circle cx="566.4" cy="509.5" r="8.8" fill="#ffc000" stroke="#000" stroke-width="1.5"/>
<circle cx="553.1" cy="518.8" r="8.8" fill="#ffc000" stroke="#000" stroke-width="1.5"/>
<circle cx="567.5" cy="523.9" r="8.8" fill="#ffc000" stroke="#000" stroke-width="1.5"/>
<circle cx="541.8" cy="515.7" r="8.8" fill="#ffc000" stroke="#000" stroke-width="1.5"/>
<circle cx="522.3" cy="520.8" r="8.8" fill="#ffc000" stroke="#000" stroke-width="1.5"/>
<circle cx="532.6" cy="525.9" r="8.8" fill="#ffc000" stroke="#000" stroke-width="1.5"/>
<circle cx="515.1" cy="532.1" r="8.8" fill="#ffc000" stroke="#000" stroke-width="1.5"/>
<circle cx="537.7" cy="537.2" r="8.8" fill="#ffc000" stroke="#000" stroke-width="1.5"/>
<circle cx="542.8" cy="548.5" r="8.8" fill="#ffc000" stroke="#000" stroke-width="1.5"/>
<circle cx="556.2" cy="539.3" r="8.8" fill="#ffc000" stroke="#000" stroke-width="1.5"/>
<circle cx="525.4" cy="551.6" r="8.8" fill="#ffc000" stroke="#000" stroke-width="1.5"/>
<circle cx="530.5" cy="557.8" r="8.8" fill="#ffc000" stroke="#000" stroke-width="1.5"/>
<circle cx="505.9" cy="558.8" r="8.8" fill="#ffc000" stroke="#000" stroke-width="1.5"/>
<circle cx="489.4" cy="554.7" r="8.8" fill="#ffc000" stroke="#000" stroke-width="1.5"/>
<circle cx="502.8" cy="545.5" r="8.8" fill="#ffc000" stroke="#000" stroke-width="1.5"/>
<circle cx="512" cy="548.5" r="8.8" fill="#ffc000" stroke="#000" stroke-width="1.5"/>
<circle cx="517.2" cy="576.3" r="8.8" fill="#ffc000" stroke="#000" stroke-width="1.5"/>
<circle cx="506.5" cy="574.2" r="8.8" fill="#ffc000" stroke="#000" stroke-width="1.5"/>
<circle cx="493.5" cy="568" r="8.8" fill="#ffc000" stroke="#000" stroke-width="1.5"/>
<circle cx="478.1" cy="576.3" r="8.8" fill="#ffc000" stroke="#000" stroke-width="1.5"/>
<circle cx="466.8" cy="581.4" r="8.8" fill="#ffc000" stroke="#000" stroke-width="1.5"/>
<circle cx="489.4" cy="591.7" r="8.8" fill="#ffc000" stroke="#000" stroke-width="1.5"/>
<circle cx="480.2" cy="588.6" r="8.8" fill="#ffc000" stroke="#000" stroke-width="1.5"/>
<circle cx="498.7" cy="590.6" r="8.8" fill="#ffc000" stroke="#000" stroke-width="1.5"/>
<circle cx="492.5" cy="603" r="8.8" fill="#ffc000" stroke="#000" stroke-width="1.5"/>
<circle cx="486.3" cy="601.9" r="8.8" fill="#ffc000" stroke="#000" stroke-width="1.5"/>
<circle cx="474" cy="608.1" r="8.8" fill="#ffc000" stroke="#000" stroke-width="1.5"/>
<circle cx="465.8" cy="608.1" r="8.8" fill="#ffc000" stroke="#000" stroke-width="1.5"/>
<circle cx="489.4" cy="554.2" r="8.8" fill="#ffc000" stroke="#000" stroke-width="1.5"/>
<circle cx="506" cy="558.7" r="8.8" fill="#ffc000" stroke="#000" stroke-width="1.5"/>
<circle cx="502.2" cy="545.9" r="8.8" fill="#ffc000" stroke="#000" stroke-width="1.5"/>
<circle cx="513.6" cy="549.1" r="8.8" fill="#ffc000" stroke="#000" stroke-width="1.5"/>
<circle cx="524.5" cy="551.7" r="8.8" fill="#ffc000" stroke="#000" stroke-width="1.5"/>
<circle cx="531.5" cy="559.3" r="8.8" fill="#ffc000" stroke="#000" stroke-width="1.5"/>
<circle cx="537.9" cy="537.6" r="8.8" fill="#ffc000" stroke="#000" stroke-width="1.5"/>
<circle cx="514.3" cy="533.8" r="8.8" fill="#ffc000" stroke="#000" stroke-width="1.5"/>
<circle cx="526.4" cy="537.6" r="8.8" fill="#ffc000" stroke="#000" stroke-width="1.5"/>
<circle cx="543" cy="549.1" r="8.8" fill="#ffc000" stroke="#000" stroke-width="1.5"/>
<circle cx="494.5" cy="568.2" r="8.8" fill="#ffc000" stroke="#000" stroke-width="1.5"/>
<circle cx="506" cy="574" r="8.8" fill="#ffc000" stroke="#000" stroke-width="1.5"/>
<circle cx="518.7" cy="577.2" r="8.8" fill="#ffc000" stroke="#000" stroke-width="1.5"/>
<circle cx="514.3" cy="580.4" r="8.8" fill="#ffc000" stroke="#000" stroke-width="1.5"/>
<circle cx="478" cy="575.9" r="8.8" fill="#ffc000" stroke="#000" stroke-width="1.5"/>
<circle cx="467.1" cy="582.3" r="8.8" fill="#ffc000" stroke="#000" stroke-width="1.5"/>
<circle cx="474.1" cy="589.9" r="8.8" fill="#ffc000" stroke="#000" stroke-width="1.5"/>
<circle cx="483.7" cy="586.1" r="8.8" fill="#ffc000" stroke="#000" stroke-width="1.5"/>
<circle cx="490.1" cy="591.2" r="8.8" fill="#ffc000" stroke="#000" stroke-width="1.5"/>
<circle cx="498.3" cy="589.9" r="8.8" fill="#ffc000" stroke="#000" stroke-width="1.5"/>
<circle cx="485.6" cy="598.8" r="8.8" fill="#ffc000" stroke="#000" stroke-width="1.5"/>
<circle cx="494.5" cy="603.9" r="8.8" fill="#ffc000" stroke="#000" stroke-width="1.5"/>
<circle cx="465.8" cy="607.8" r="8.8" fill="#ffc000" stroke="#000" stroke-width="1.5"/>
<circle cx="474.1" cy="607.8" r="8.8" fill="#ffc000" stroke="#000" stroke-width="1.5"/>
<circle cx="488.1" cy="602.7" r="8.8" fill="#ffc000" stroke="#000" stroke-width="1.5"/>
<circle cx="558.8" cy="472.7" r="8.8" fill="#ffc000" stroke="#000" stroke-width="1.5"/>
<circle cx="574.4" cy="473.5" r="8.8" fill="#ffc000" stroke="#000" stroke-width="1.5"/>
<circle cx="573" cy="482.7" r="8.8" fill="#ffc000" stroke="#000" stroke-width="1.5"/>
<circle cx="547.5" cy="488.3" r="8.8" fill="#ffc000" stroke="#000" stroke-width="1.5"/>
<circle cx="543.2" cy="499.7" r="8.8" fill="#ffc000" stroke="#000" stroke-width="1.5"/>
<circle cx="571.6" cy="495.4" r="8.8" fill="#ffc000" stroke="#000" stroke-width="1.5"/>
<circle cx="587.2" cy="493.3" r="8.8" fill="#ffc000" stroke="#000" stroke-width="1.5"/>
<circle cx="590" cy="499.7" r="8.8" fill="#ffc000" stroke="#000" stroke-width="1.5"/>
<circle cx="565.9" cy="509.6" r="8.8" fill="#ffc000" stroke="#000" stroke-width="1.5"/>
<circle cx="581.5" cy="508.2" r="8.8" fill="#ffc000" stroke="#000" stroke-width="1.5"/>
<circle cx="541.1" cy="515.2" r="8.8" fill="#ffc000" stroke="#000" stroke-width="1.5"/>
<circle cx="553.9" cy="519.5" r="8.8" fill="#ffc000" stroke="#000" stroke-width="1.5"/>
<circle cx="568" cy="523.7" r="8.8" fill="#ffc000" stroke="#000" stroke-width="1.5"/>
<circle cx="582.2" cy="519.5" r="8.8" fill="#ffc000" stroke="#000" stroke-width="1.5"/>
<circle cx="523.4" cy="520.9" r="8.8" fill="#ffc000" stroke="#000" stroke-width="1.5"/>
<circle cx="531.9" cy="524.4" r="8.8" fill="#ffc000" stroke="#000" stroke-width="1.5"/>
<circle cx="514.9" cy="530.8" r="8.8" fill="#ffc000" stroke="#000" stroke-width="1.5"/>
<circle cx="537.6" cy="536.5" r="8.8" fill="#ffc000" stroke="#000" stroke-width="1.5"/>
<circle cx="554.6" cy="537.2" r="8.8" fill="#ffc000" stroke="#000" stroke-width="1.5"/>
<circle cx="565.9" cy="533.7" r="8.8" fill="#ffc000" stroke="#000" stroke-width="1.5"/>
<circle cx="526.2" cy="550.7" r="8.8" fill="#ffc000" stroke="#000" stroke-width="1.5"/>
<circle cx="546.1" cy="546.4" r="8.8" fill="#ffc000" stroke="#000" stroke-width="1.5"/>
<circle cx="510" cy="549.2" r="8.8" fill="#ffc000" stroke="#000" stroke-width="1.5"/>
<circle cx="558.8" cy="541.4" r="8.8" fill="#ffc000" stroke="#000" stroke-width="1.5"/>
<rect x="440.7" y="406.6" width="225.8" height="224.89999999999998" fill="none" stroke="#000" stroke-width="3.4"/>
<text x="417.5" y="640.2" font-size="26.3" text-anchor="end" fill="#000">0</text>
<text x="417.5" y="565.2" font-size="26.3" text-anchor="end" fill="#000">1</text>
<text x="417.5" y="490.3" font-size="26.3" text-anchor="end" fill="#000">2</text>
<text x="417.5" y="415.3" font-size="26.3" text-anchor="end" fill="#000">3</text>
<text transform="translate(441.0,673) scale(1.12,1)" font-size="22.5" text-anchor="middle">0</text>
<text transform="translate(516.3,673) scale(1.12,1)" font-size="22.5" text-anchor="middle">1</text>
<text transform="translate(591.5,673) scale(1.12,1)" font-size="22.5" text-anchor="middle">2</text>
<text transform="translate(666.8,673) scale(1.12,1)" font-size="22.5" text-anchor="middle">3</text>
<text x="474.4" y="697.8" font-size="22.2" textLength="181.8" lengthAdjust="spacingAndGlyphs">Actual [ <tspan font-size="29" stroke="#fff" stroke-width="0.6">×</tspan><tspan dx="4">10</tspan><tspan font-size="14" dy="-8.5">−3</tspan><tspan dy="8.5"> N]</tspan></text>
<text transform="translate(371.6,626.3) rotate(-90)" font-size="22.2" textLength="214.7" lengthAdjust="spacingAndGlyphs">Predicted [ <tspan font-size="29" stroke="#fff" stroke-width="0.6">×</tspan><tspan dx="4">10</tspan><tspan font-size="14" dy="-8.5">−3</tspan><tspan dy="8.5"> N]</tspan></text>
<text x="459.1" y="390.4" font-size="26" textLength="179.5" lengthAdjust="spacingAndGlyphs" fill="#000">SE stress (std.)</text>
<text x="461.3" y="440.8" font-size="22.3" font-weight="bold" fill="#000">R</text>
<text x="477.5" y="432.8" font-size="12.5" font-weight="bold" fill="#000">2</text>
<line x1="488.5" y1="430.0" x2="503.3" y2="430.0" stroke="#333" stroke-width="1.3"/>
<line x1="488.5" y1="434.6" x2="503.3" y2="434.6" stroke="#333" stroke-width="1.3"/>
<text x="507.6" y="440.8" font-size="22.3" font-weight="bold" fill="#000">0.806</text>
<rect x="860.4" y="275.5" width="32.5" height="40.8" fill="#4bacc6"/>
<rect x="904.9" y="175.9" width="32.5" height="140.4" fill="#4bacc6"/>
<rect x="949.4" y="118" width="32.5" height="198.3" fill="#4bacc6"/>
<rect x="993.8" y="205.8" width="32.5" height="110.5" fill="#4bacc6"/>
<rect x="1038.3" y="249.7" width="32.5" height="66.6" fill="#4bacc6"/>
<rect x="1082.8" y="295" width="32.5" height="21.3" fill="#4bacc6"/>
<rect x="1127.3" y="312.8" width="32.5" height="3.5" fill="#4bacc6"/>
<rect x="1171.8" y="314.5" width="32.5" height="1.8" fill="#4bacc6"/>
<rect x="1216.2" y="312.8" width="32.5" height="3.5" fill="#4bacc6"/>
<rect x="1260.7" y="314.5" width="32.5" height="1.8" fill="#4bacc6"/>
<rect x="855.5" y="84" width="489.0999999999999" height="232.3" fill="none" stroke="#000" stroke-width="4"/>
<path d="M874.8,279.9 C880.2,269.3 896.5,238.8 907.5,216.5 C918.5,194.2 932.8,162.0 940.8,145.8 C948.8,129.6 951.1,124.8 955.5,119.5 C959.9,114.2 963.1,114.0 967,114 C970.9,114.0 974.8,115.7 979,119.8 C983.2,123.9 987.7,131.7 992,138.5 C996.3,145.3 998.5,148.9 1004.6,160.5 C1010.7,172.1 1020.5,191.8 1028.5,208.3 C1036.5,224.8 1046.0,247.3 1052.4,259.3 C1058.8,271.3 1062.2,274.1 1067,280.5 C1071.8,286.9 1076.1,292.8 1081.1,297.5 C1086.1,302.2 1091.7,305.9 1097,308.7 C1102.3,311.4 1106.6,313.0 1112.9,314 C1119.2,315.0 1100.0,314.7 1135,314.8 C1170.0,314.9 1291.7,314.8 1323,314.8" fill="none" stroke="#ff0000" stroke-width="4" stroke-linejoin="round" stroke-linecap="round"/>
<text x="830.6" y="325.9" font-size="28.5" text-anchor="end" fill="#000">0</text>
<text x="830.6" y="267.8" font-size="28.5" text-anchor="end" fill="#000">0.1</text>
<text x="830.6" y="209.8" font-size="28.5" text-anchor="end" fill="#000">0.2</text>
<text x="830.6" y="151.7" font-size="28.5" text-anchor="end" fill="#000">0.3</text>
<text x="830.6" y="93.6" font-size="28.5" text-anchor="end" fill="#000">0.4</text>
<text x="926" y="72.8" font-size="28" textLength="302.7" lengthAdjust="spacingAndGlyphs" fill="#000">SE Stress distribution</text>
<rect x="1045.9" y="118" width="40.4" height="19.1" fill="#4bacc6"/>
<line x1="1044.6" y1="170.8" x2="1086.3" y2="170.8" stroke="#ff0000" stroke-width="4.5"/>
<text x="1091.5" y="135.3" font-size="26.5" textLength="247" lengthAdjust="spacingAndGlyphs" fill="#000">Calculation by DEM</text>
<text x="1091.5" y="186.4" font-size="26.5" textLength="231" lengthAdjust="spacingAndGlyphs" fill="#000">Prediction by CNN</text>
<text transform="translate(883.1,352.3) rotate(-45)" font-size="25.5" text-anchor="end">0<tspan font-size="30" dy="1">~</tspan><tspan dy="-1">1</tspan></text>
<text transform="translate(927.6,352.3) rotate(-45)" font-size="25.5" text-anchor="end">1<tspan font-size="30" dy="1">~</tspan><tspan dy="-1">2</tspan></text>
<text transform="translate(972.1,352.3) rotate(-45)" font-size="25.5" text-anchor="end">2<tspan font-size="30" dy="1">~</tspan><tspan dy="-1">3</tspan></text>
<text transform="translate(1016.6,352.3) rotate(-45)" font-size="25.5" text-anchor="end">3<tspan font-size="30" dy="1">~</tspan><tspan dy="-1">4</tspan></text>
<text transform="translate(1061.1,352.3) rotate(-45)" font-size="25.5" text-anchor="end">4<tspan font-size="30" dy="1">~</tspan><tspan dy="-1">5</tspan></text>
<text transform="translate(1105.5,352.3) rotate(-45)" font-size="25.5" text-anchor="end">5<tspan font-size="30" dy="1">~</tspan><tspan dy="-1">6</tspan></text>
<text transform="translate(1150.0,352.3) rotate(-45)" font-size="25.5" text-anchor="end">6<tspan font-size="30" dy="1">~</tspan><tspan dy="-1">7</tspan></text>
<text transform="translate(1194.5,352.3) rotate(-45)" font-size="25.5" text-anchor="end">7<tspan font-size="30" dy="1">~</tspan><tspan dy="-1">8</tspan></text>
<text transform="translate(1239.0,352.3) rotate(-45)" font-size="25.5" text-anchor="end">8<tspan font-size="30" dy="1">~</tspan><tspan dy="-1">9</tspan></text>
<text transform="translate(1283.5,352.3) rotate(-45)" font-size="25.5" text-anchor="end">9<tspan font-size="30" dy="1">~</tspan><tspan dy="-1">10</tspan></text>
<text x="991.8" y="408.8" font-size="27" textLength="198" lengthAdjust="spacingAndGlyphs">Stress [×10<tspan font-size="17" dy="-9">−3</tspan><tspan dy="9"> N]</tspan></text>
<text transform="translate(775.5,276) rotate(-90)" font-size="27.5" textLength="164.5" lengthAdjust="spacingAndGlyphs">Frequency [-]</text>
<defs>
<filter id="jetb" x="0" y="0" width="1" height="1" color-interpolation-filters="sRGB">
 <feGaussianBlur stdDeviation="6"/>
 <feComponentTransfer>
  <feFuncR type="table" tableValues="0 0 0 0 0.5 1 1 1 0.5"/>
  <feFuncG type="table" tableValues="0 0 0.5 1 1 1 0.5 0 0"/>
  <feFuncB type="table" tableValues="0.5 1 1 1 0.5 0 0 0 0"/>
  <feFuncA type="table" tableValues="1 1"/>
 </feComponentTransfer>
</filter>
<filter id="jetb2" x="0" y="0" width="1" height="1" color-interpolation-filters="sRGB">
 <feGaussianBlur stdDeviation="3"/>
 <feComponentTransfer>
  <feFuncR type="table" tableValues="0 0 0 0 0.5 1 1 1 0.5"/>
  <feFuncG type="table" tableValues="0 0 0.5 1 1 1 0.5 0 0"/>
  <feFuncB type="table" tableValues="0.5 1 1 1 0.5 0 0 0 0"/>
  <feFuncA type="table" tableValues="1 1"/>
 </feComponentTransfer>
</filter>
<filter id="jetb3" x="0" y="0" width="1" height="1" color-interpolation-filters="sRGB">
 <feGaussianBlur stdDeviation="0.8"/>
 <feComponentTransfer>
  <feFuncR type="table" tableValues="0 0 0 0 0.5 1 1 1 0.5"/>
  <feFuncG type="table" tableValues="0 0 0.5 1 1 1 0.5 0 0"/>
  <feFuncB type="table" tableValues="0.5 1 1 1 0.5 0 0 0 0"/>
 </feComponentTransfer>
</filter>
<filter id="jet" x="0" y="0" width="1" height="1" color-interpolation-filters="sRGB">
 <feComponentTransfer>
  <feFuncR type="table" tableValues="0 0 0 0 0.5 1 1 1 0.5"/>
  <feFuncG type="table" tableValues="0 0 0.5 1 1 1 0.5 0 0"/>
  <feFuncB type="table" tableValues="0.5 1 1 1 0.5 0 0 0 0"/>
 </feComponentTransfer>
</filter>
<radialGradient id="pg">
 <stop offset="0" stop-color="rgb(42,42,42)"/>
 <stop offset="0.35" stop-color="rgb(56,56,56)"/>
 <stop offset="0.55" stop-color="rgb(76,76,76)"/>
 <stop offset="0.7" stop-color="rgb(97,97,97)"/>
 <stop offset="0.85" stop-color="rgb(117,117,117)"/>
 <stop offset="1" stop-color="rgb(138,138,138)"/>
</radialGradient>
<linearGradient id="cbar" x1="0" y1="1" x2="0" y2="0">
 <stop offset="0" stop-color="#000080"/>
 <stop offset="0.125" stop-color="#0000ff"/>
 <stop offset="0.375" stop-color="#00ffff"/>
 <stop offset="0.625" stop-color="#ffff00"/>
 <stop offset="0.875" stop-color="#ff0000"/>
 <stop offset="1" stop-color="#800000"/>
</linearGradient>
<pattern id="dots" x="0" y="0" width="4" height="4" patternUnits="userSpaceOnUse"><rect width="4" height="4" fill="#fcfcfc"/><circle cx="1.2" cy="1.2" r="0.7" fill="#c8c8c8"/></pattern>
<clipPath id="cg"><rect x="778.4" y="494.3" width="140.8" height="139.7"/></clipPath>
<clipPath id="ch1"><rect x="936.8" y="494.1" width="142.3" height="141.6"/></clipPath>
<clipPath id="ch2"><rect x="1099" y="495.9" width="140.1" height="139.8"/></clipPath>
</defs>
<g clip-path="url(#cg)"><rect x="778.4" y="494.3" width="140.8" height="139.7" fill="url(#dots)"/>
<circle cx="829.1" cy="500.6" r="16.8" fill="none" stroke="#444" stroke-width="1" stroke-dasharray="1 2"/>
<circle cx="829.1" cy="500.6" r="16" fill="#808080"/>
<circle cx="808.8" cy="536.6" r="26.1" fill="none" stroke="#444" stroke-width="1" stroke-dasharray="1 2"/>
<circle cx="808.8" cy="536.6" r="25.3" fill="#808080"/>
<circle cx="860.5" cy="525.5" r="23.7" fill="none" stroke="#444" stroke-width="1" stroke-dasharray="1 2"/>
<circle cx="860.5" cy="525.5" r="22.9" fill="#808080"/>
<circle cx="902.3" cy="512.5" r="20.8" fill="none" stroke="#444" stroke-width="1" stroke-dasharray="1 2"/>
<circle cx="902.3" cy="512.5" r="20" fill="#808080"/>
<circle cx="889.5" cy="562.2" r="23.900000000000002" fill="none" stroke="#444" stroke-width="1" stroke-dasharray="1 2"/>
<circle cx="889.5" cy="562.2" r="23.1" fill="#808080"/>
<circle cx="808.6" cy="586.1" r="24.1" fill="none" stroke="#444" stroke-width="1" stroke-dasharray="1 2"/>
<circle cx="808.6" cy="586.1" r="23.3" fill="#808080"/>
<circle cx="854.8" cy="592.6" r="23.400000000000002" fill="none" stroke="#444" stroke-width="1" stroke-dasharray="1 2"/>
<circle cx="854.8" cy="592.6" r="22.6" fill="#808080"/>
<circle cx="904.5" cy="609.6" r="23.6" fill="none" stroke="#444" stroke-width="1" stroke-dasharray="1 2"/>
<circle cx="904.5" cy="609.6" r="22.8" fill="#808080"/>
<circle cx="792.1" cy="619.3" r="16.3" fill="none" stroke="#444" stroke-width="1" stroke-dasharray="1 2"/>
<circle cx="792.1" cy="619.3" r="15.5" fill="#808080"/>
<circle cx="827.9" cy="623.6" r="16.4" fill="none" stroke="#444" stroke-width="1" stroke-dasharray="1 2"/>
<circle cx="827.9" cy="623.6" r="15.6" fill="#808080"/>
</g>
<g clip-path="url(#ch1)"><g filter="url(#jetb)">
<rect x="916.8" y="474.1" width="182.3" height="182.3" fill="rgb(139,139,139)"/>
<ellipse cx="966.9" cy="538.3" rx="20.6" ry="23.6" fill="rgb(102,102,102)"/>
<ellipse cx="1020.2" cy="524.0" rx="20.0" ry="17.7" fill="rgb(102,102,102)"/>
<ellipse cx="1050.8" cy="562.1" rx="18.3" ry="20.0" fill="rgb(102,102,102)"/>
<ellipse cx="968.1" cy="588.1" rx="18.9" ry="18.9" fill="rgb(102,102,102)"/>
<ellipse cx="1012.3" cy="596.1" rx="20.0" ry="17.7" fill="rgb(102,102,102)"/>
<ellipse cx="1063.7" cy="611.9" rx="18.9" ry="24.8" fill="rgb(102,102,102)"/>
<ellipse cx="1078.0" cy="618.7" rx="7.4" ry="17.7" fill="rgb(102,102,102)"/>
<ellipse cx="1064.4" cy="511.1" rx="20.6" ry="21.8" fill="rgb(102,102,102)"/>
<ellipse cx="1076.9" cy="497.5" rx="8.8" ry="8.8" fill="rgb(102,102,102)"/>
<ellipse cx="986.2" cy="495.2" rx="17.7" ry="7.7" fill="rgb(102,102,102)"/>
<ellipse cx="938.6" cy="632.3" rx="14.7" ry="16.2" fill="rgb(102,102,102)"/>
<ellipse cx="986.2" cy="635.0" rx="14.7" ry="5.3" fill="rgb(102,102,102)"/>
<ellipse cx="937.5" cy="495.2" rx="5.9" ry="5.9" fill="rgb(92,92,92)"/>
<ellipse cx="938.6" cy="530.3" rx="3.2" ry="15.9" fill="rgb(102,102,102)"/>
<ellipse cx="1079.1" cy="541.7" rx="2.7" ry="15.9" fill="rgb(92,92,92)"/>
<ellipse cx="966.9" cy="538.3" rx="15.9" ry="18.1" fill="rgb(43,43,43)"/>
<ellipse cx="1020.2" cy="524.0" rx="15.4" ry="13.6" fill="rgb(43,43,43)"/>
<ellipse cx="1050.8" cy="562.1" rx="14.1" ry="15.4" fill="rgb(43,43,43)"/>
<ellipse cx="968.1" cy="588.1" rx="14.5" ry="14.5" fill="rgb(46,46,46)"/>
<ellipse cx="1012.3" cy="596.1" rx="15.4" ry="13.6" fill="rgb(43,43,43)"/>
<ellipse cx="1063.7" cy="611.9" rx="14.5" ry="19.0" fill="rgb(51,51,51)"/>
<ellipse cx="1078.0" cy="618.7" rx="5.7" ry="13.6" fill="rgb(20,20,20)"/>
<ellipse cx="1064.4" cy="511.1" rx="15.9" ry="16.8" fill="rgb(56,56,56)"/>
<ellipse cx="1076.9" cy="497.5" rx="6.8" ry="6.8" fill="rgb(15,15,15)"/>
<ellipse cx="986.2" cy="495.2" rx="13.6" ry="5.9" fill="rgb(15,15,15)"/>
<ellipse cx="938.6" cy="632.3" rx="11.3" ry="12.5" fill="rgb(0,0,0)"/>
<ellipse cx="986.2" cy="635.0" rx="11.3" ry="4.1" fill="rgb(31,31,31)"/>
<ellipse cx="955.6" cy="509.9" rx="15.0" ry="11.3" fill="rgb(237,237,237)"/>
<ellipse cx="952.2" cy="506.5" rx="8.6" ry="6.3" fill="rgb(250,250,250)"/>
<ellipse cx="999.8" cy="560.9" rx="22.2" ry="18.6" fill="rgb(230,230,230)"/>
<ellipse cx="996.4" cy="563.2" rx="13.1" ry="10.0" fill="rgb(255,255,255)"/>
<ellipse cx="988.5" cy="573.4" rx="9.1" ry="6.8" fill="rgb(230,230,230)"/>
<ellipse cx="947.0" cy="564.3" rx="5.4" ry="12.2" fill="rgb(209,209,209)"/>
<ellipse cx="1062.1" cy="538.3" rx="11.8" ry="8.2" fill="rgb(204,204,204)"/>
<ellipse cx="1024.7" cy="622.1" rx="22.2" ry="8.2" fill="rgb(204,204,204)"/>
<ellipse cx="1041.7" cy="601.7" rx="6.8" ry="13.1" fill="rgb(189,189,189)"/>
<ellipse cx="970.3" cy="618.7" rx="6.8" ry="6.8" fill="rgb(178,178,178)"/>
<ellipse cx="1033.8" cy="505.4" rx="10.4" ry="4.1" fill="rgb(184,184,184)"/>
<ellipse cx="1067.8" cy="582.5" rx="4.1" ry="7.3" fill="rgb(178,178,178)"/>
<ellipse cx="993.0" cy="514.5" rx="9.1" ry="9.1" fill="rgb(153,153,153)"/>
<ellipse cx="945.4" cy="602.9" rx="6.8" ry="9.1" fill="rgb(148,148,148)"/>
<ellipse cx="1031.5" cy="573.4" rx="9.1" ry="6.8" fill="rgb(148,148,148)"/>
</g></g>
<g clip-path="url(#ch2)"><g filter="url(#jetb2)">
<rect x="1079" y="475.9" width="180" height="180" fill="rgb(184,184,184)"/>
<circle cx="1149.7" cy="502.2" r="18.5" fill="rgb(158,158,158)"/>
<circle cx="1129.4" cy="538.2" r="27.8" fill="rgb(158,158,158)"/>
<circle cx="1181.1" cy="527.1" r="25.4" fill="rgb(158,158,158)"/>
<circle cx="1222.9" cy="514.1" r="22.5" fill="rgb(158,158,158)"/>
<circle cx="1210.1" cy="563.8" r="25.6" fill="rgb(158,158,158)"/>
<circle cx="1129.2" cy="587.7" r="25.8" fill="rgb(158,158,158)"/>
<circle cx="1175.4" cy="594.2" r="25.1" fill="rgb(158,158,158)"/>
<circle cx="1225.1" cy="611.2" r="25.3" fill="rgb(158,158,158)"/>
<circle cx="1112.7" cy="620.9" r="18.0" fill="rgb(158,158,158)"/>
<circle cx="1148.5" cy="625.2" r="18.1" fill="rgb(158,158,158)"/>
<ellipse cx="1114.6" cy="509.6" rx="16" ry="14" fill="rgb(237,237,237)"/>
<ellipse cx="1160.6" cy="558.6" rx="19" ry="16" fill="rgb(245,245,245)"/>
<ellipse cx="1104.6" cy="563.6" rx="6" ry="14" fill="rgb(219,219,219)"/>
<ellipse cx="1232.6" cy="541.6" rx="9" ry="8" fill="rgb(189,189,189)"/>
<ellipse cx="1198.6" cy="626.6" rx="20" ry="10" fill="rgb(204,204,204)"/>
<ellipse cx="1217.6" cy="586.6" rx="5" ry="9" fill="rgb(173,173,173)"/>
<ellipse cx="1150.6" cy="613.6" rx="8" ry="5" fill="rgb(168,168,168)"/>
<ellipse cx="1195.6" cy="498.6" rx="12" ry="4" fill="rgb(189,189,189)"/>
<ellipse cx="1102.6" cy="511.6" rx="4" ry="12" fill="rgb(224,224,224)"/>
</g><g filter="url(#jetb3)">
<circle cx="1149.7" cy="502.2" r="16.5" fill="url(#pg)"/>
<circle cx="1129.4" cy="538.2" r="25.8" fill="url(#pg)"/>
<circle cx="1181.1" cy="527.1" r="23.4" fill="url(#pg)"/>
<circle cx="1222.9" cy="514.1" r="20.5" fill="url(#pg)"/>
<circle cx="1210.1" cy="563.8" r="23.6" fill="url(#pg)"/>
<circle cx="1129.2" cy="587.7" r="23.8" fill="url(#pg)"/>
<circle cx="1175.4" cy="594.2" r="23.1" fill="url(#pg)"/>
<circle cx="1225.1" cy="611.2" r="23.3" fill="url(#pg)"/>
<circle cx="1112.7" cy="620.9" r="16.0" fill="url(#pg)"/>
<circle cx="1148.5" cy="625.2" r="16.1" fill="url(#pg)"/>
</g></g>
<rect x="1248.8" y="496.4" width="8.1" height="139.2" fill="url(#cbar)" stroke="#555" stroke-width="0.6"/>
<line x1="1257" y1="502.9" x2="1258.6" y2="502.9" stroke="#8a8aa8" stroke-width="1.2"/>
<line x1="1262.8" y1="500.3" x2="1262.8" y2="506.1" stroke="#666" stroke-width="1.3" stroke-dasharray="1.6 1.2"/>
<line x1="1257" y1="519.2" x2="1258.6" y2="519.2" stroke="#8a8aa8" stroke-width="1.2"/>
<line x1="1262.8" y1="516.6" x2="1262.8" y2="522.4" stroke="#666" stroke-width="1.3" stroke-dasharray="1.6 1.2"/>
<line x1="1257" y1="535.5" x2="1258.6" y2="535.5" stroke="#8a8aa8" stroke-width="1.2"/>
<line x1="1262.8" y1="532.9" x2="1262.8" y2="538.7" stroke="#666" stroke-width="1.3" stroke-dasharray="1.6 1.2"/>
<line x1="1257" y1="551.8" x2="1258.6" y2="551.8" stroke="#8a8aa8" stroke-width="1.2"/>
<line x1="1262.8" y1="549.2" x2="1262.8" y2="555.0" stroke="#666" stroke-width="1.3" stroke-dasharray="1.6 1.2"/>
<line x1="1257" y1="568.1" x2="1258.6" y2="568.1" stroke="#8a8aa8" stroke-width="1.2"/>
<line x1="1262.8" y1="565.5" x2="1262.8" y2="571.3" stroke="#666" stroke-width="1.3" stroke-dasharray="1.6 1.2"/>
<line x1="1257" y1="584.4" x2="1258.6" y2="584.4" stroke="#8a8aa8" stroke-width="1.2"/>
<line x1="1262.8" y1="581.8" x2="1262.8" y2="587.6" stroke="#666" stroke-width="1.3" stroke-dasharray="1.6 1.2"/>
<line x1="1257" y1="600.7" x2="1258.6" y2="600.7" stroke="#8a8aa8" stroke-width="1.2"/>
<line x1="1262.8" y1="598.1" x2="1262.8" y2="603.9" stroke="#666" stroke-width="1.3" stroke-dasharray="1.6 1.2"/>
<line x1="1257" y1="617.0" x2="1258.6" y2="617.0" stroke="#8a8aa8" stroke-width="1.2"/>
<line x1="1262.8" y1="614.4" x2="1262.8" y2="620.2" stroke="#666" stroke-width="1.3" stroke-dasharray="1.6 1.2"/>
<line x1="1257" y1="633.3" x2="1258.6" y2="633.3" stroke="#8a8aa8" stroke-width="1.2"/>
<line x1="1262.8" y1="630.7" x2="1262.8" y2="636.5" stroke="#666" stroke-width="1.3" stroke-dasharray="1.6 1.2"/>
<text transform="translate(1297.8,642) rotate(-90)" font-size="27.5" textLength="156.5" lengthAdjust="spacingAndGlyphs">Activation [-]</text>
</svg>
</body></html>
